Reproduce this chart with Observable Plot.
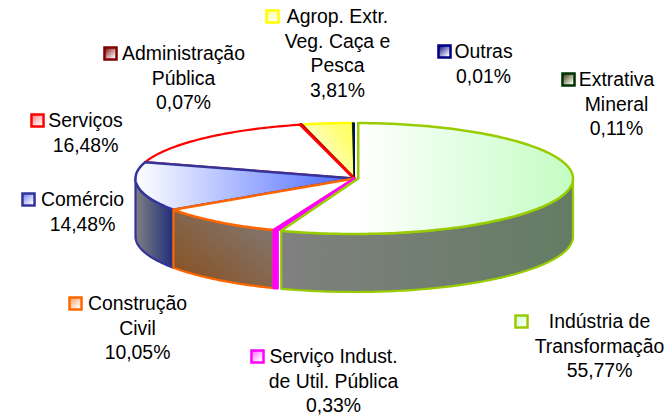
<!DOCTYPE html>
<html><head><meta charset="utf-8">
<style>html,body{margin:0;padding:0;background:#fff}svg{display:block}</style>
<script src="https://cdn.jsdelivr.net/npm/d3@7"></script>
<script src="https://cdn.jsdelivr.net/npm/@observablehq/plot@0.6"></script>
</head><body><script>
// data, clockwise from 12 o'clock
const categories = ["Indústria de\nTransformação","Serviço Indust.\nde Util. Pública","Construção\nCivil","Comércio","Serviços","Administração\nPública","Agrop. Extr.\nVeg. Caça e\nPesca","Extrativa\nMineral","Outras"];
const shares = [55.77,0.33,10.05,14.48,16.48,0.07,3.81,0.11,0.01];
// styles
const strokes = ["#99cc00","#ff00ff","#ff6600","#333399","#ff0000","#800000","#ffff00","#003300","#000080"];
const topFrom = ["#ffffff","#ff00ff","#ffffff","#ffffff","#ffffff","#800000","#ffffff","#003300","#000080"];
const topTo   = ["#c4fdc4","#ff00ff","#ffffff","#4a68ff","#ffffff","#800000","#ffff70","#003300","#000080"];
const sideFrom = ["#808080","#ff00ff","#8a4e1c","#808080"];
const sideTo   = ["#637c63","#ff00ff","#807c7a","#1f2d7c"];
const swatchFill = ["#ccffcc","#ff66ff","#ff9955","#6677ee","#ff7777","#800000","#ffff88","#333300","#000080"];
const topWidth = [2.5,2.5,2.5,2.5,2.2,3,2.5,1.5,1];
// layout
const labelX = [599,333,137,82,85,183,337,616,483];
const labelY = [310,345,292,188,109,42,5,68,40];
const swatchX = [521,257,75,28,37,110,272,568,444];
// pie geometry
const cx = 353.75, cy = 178, rx = 218.75, ry = 55.5, depth = 58, explodeGreen = 4;
const deg = Math.PI/180, warpCentre = 200*deg, warpSize = 1.9*deg;

const arcs = d3.pie().sort(null).startAngle(0).endAngle(2*Math.PI)(shares);
const warp = (t, k) => t + k*warpSize*Math.pow(Math.max(0, Math.cos(t - warpCentre)), 10);
const ring = (a, b, dy, k) => {
  const n = Math.max(2, Math.ceil((b - a) / deg));
  return d3.range(n + 1).map(i => {
    const t = warp(a + (b - a) * i / n, k);
    return {x: cx + rx*Math.sin(t), y: cy - ry*Math.cos(t) + dy};
  });
};
const wedge = (i) => {
  const {startAngle: a, endAngle: b} = arcs[i];
  const tip = {x: cx + (i === 0 ? explodeGreen : 0), y: cy};
  const a0 = i === 0 ? Math.asin(explodeGreen/rx) : a;
  const pts = ring(a0, b, 0, i === 0 ? .5 : 1);
  return [tip, ...pts, tip];
};
const side = (i) => {
  const a = Math.max(arcs[i].startAngle, Math.PI/2), b = Math.min(arcs[i].endAngle, 3*Math.PI/2);
  const k = i === 0 ? .5 : 1;
  const t = ring(a, b, 0, k), u = ring(a, b, depth, k).reverse();
  return [...t, ...u, t[0]];
};
const grad = (id, c0, c1, x1, y1, x2, y2) =>
  `<linearGradient id="${id}" x1="${x1}" y1="${y1}" x2="${x2}" y2="${y2}"><stop offset="0" stop-color="${c0}"/><stop offset="1" stop-color="${c1}"/></linearGradient>`;

const defsMark = () => {
  const d = document.createElementNS("http://www.w3.org/2000/svg", "defs");
  let html = "";
  shares.forEach((_, i) => {
    html += i === 6 ? grad("top"+i, topFrom[i], topTo[i], 0, .75, .8, .2)
      : i === 0 ? grad("top"+i, topFrom[i], topTo[i], .26, 0, 1, 0)
      : grad("top"+i, topFrom[i], topTo[i], 0, 0, 1, 0);
    html += grad("sw"+i, swatchFill[i], "#ffffff", 0, 0, .8, .9);
  });
  sideFrom.forEach((c, i) => {
    html += i === 2 ? grad("side"+i, c, sideTo[i], 0, 1, 1, 0) : grad("side"+i, c, sideTo[i], 0, 0, 1, 0);
  });
  d.innerHTML = html;
  return d;
};

const poly = (pts, fill, stroke, w) => Plot.line(pts, {x:"x", y:"y", fill, stroke, strokeWidth:w, strokeLinejoin:"round", curve:"linear"});

const topOrder = [6,7,8,5,4,3,2,1,0];
const servicesEdge = [wedge(4)[0], wedge(4).at(-2)];
const marks = [
  defsMark,
  ...[3,2,1,0].map(i => poly(side(i), `url(#side${i})`, strokes[i], 2.2)),
  ...topOrder.flatMap(i => {
    const m = [poly(wedge(i), `url(#top${i})`, strokes[i], topWidth[i])];
    if (i === 4) m.push(Plot.line(servicesEdge, {x:"x", y:"y", stroke:strokes[4], strokeWidth:3}));
    return m;
  }),
  ...shares.map((_, i) => Plot.dot([{x: swatchX[i], y: labelY[i] + 11}], {x:"x", y:"y", symbol:"square", r:6.8, fill:`url(#sw${i})`, stroke:strokes[i], strokeWidth:2.5})),
  Plot.text(categories.map((c, i) => ({t: c + "\n" + shares[i].toFixed(2).replace(".", ",") + "%", x: labelX[i], y: labelY[i]})), {
    x:"x", y:"y", text:"t", textAnchor:"middle", lineAnchor:"top", lineHeight:1.27, fontSize:19.4, fill:"#000"
  })
];

document.body.append(Plot.plot({
  width:671, height:417, margin:0,
  style:{fontFamily:"'Liberation Sans',Arial,sans-serif", background:"#fff", overflow:"visible"},
  x:{domain:[0,671], range:[0,671], axis:null},
  y:{domain:[0,417], range:[0,417], axis:null},
  marks
}));
</script></body></html>
